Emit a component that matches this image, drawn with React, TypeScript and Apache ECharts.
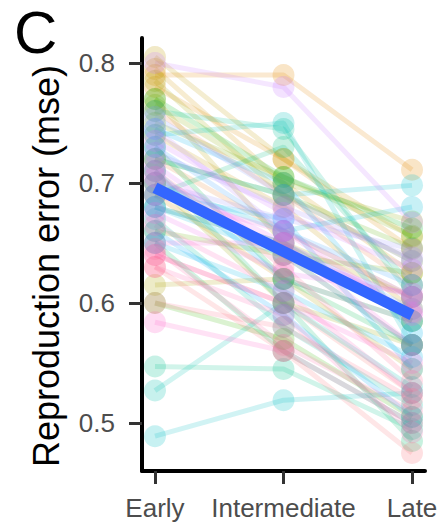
import React, { useEffect, useRef } from "react";
import * as echarts from "echarts";

// Phase categories (x axis)
const phases = ["Early", "Intermediate", "Late"];
// y tick labels
const yTicks = [0.5, 0.6, 0.7, 0.8];

// Per-subject reproduction error (mse); subject i gets the i-th hue of the palette
const early = [
  0.640, 0.700, 0.760, 0.720, 0.790, 0.780, 0.690, 0.795, 0.740, 0.805,
  0.770, 0.615, 0.785, 0.700, 0.765, 0.750, 0.660, 0.720, 0.600, 0.770,
  0.680, 0.730, 0.650, 0.710, 0.690, 0.547, 0.760, 0.670, 0.527, 0.740,
  0.489, 0.720, 0.700, 0.680, 0.650, 0.745, 0.690, 0.710, 0.660, 0.730,
  0.680, 0.755, 0.700, 0.725, 0.745, 0.800, 0.735, 0.715, 0.705, 0.675,
  0.690, 0.650, 0.640, 0.584, 0.665, 0.630, 0.645, 0.710, 0.600, 0.630,
];
const intermediate = [
  0.600, 0.640, 0.690, 0.660, 0.790, 0.720, 0.620, 0.700, 0.680, 0.720,
  0.650, 0.620, 0.690, 0.600, 0.700, 0.705, 0.640, 0.690, 0.570, 0.705,
  0.650, 0.620, 0.560, 0.600, 0.730, 0.545, 0.745, 0.580, 0.600, 0.750,
  0.519, 0.690, 0.660, 0.640, 0.610, 0.700, 0.670, 0.620, 0.590, 0.660,
  0.650, 0.690, 0.670, 0.680, 0.660, 0.780, 0.675, 0.640, 0.650, 0.625,
  0.660, 0.650, 0.600, 0.560, 0.610, 0.590, 0.565, 0.630, 0.580, 0.560,
];
const late = [
  0.525, 0.565, 0.615, 0.605, 0.711, 0.645, 0.585, 0.625, 0.595, 0.655,
  0.605, 0.545, 0.635, 0.565, 0.668, 0.656, 0.625, 0.646, 0.505, 0.662,
  0.585, 0.565, 0.500, 0.485, 0.615, 0.495, 0.605, 0.515, 0.530, 0.565,
  0.525, 0.698, 0.680, 0.565, 0.555, 0.575, 0.545, 0.585, 0.505, 0.615,
  0.595, 0.635, 0.645, 0.638, 0.605, 0.667, 0.628, 0.605, 0.592, 0.608,
  0.590, 0.565, 0.550, 0.500, 0.525, 0.492, 0.510, 0.535, 0.520, 0.475,
];
// Fitted trend (Early, Late)
const trend = [0.696, 0.590];

function hcl(h: number, c: number, l: number, a: number): string {
  const hr = (h * Math.PI) / 180;
  const u = c * Math.cos(hr);
  const v = c * Math.sin(hr);
  const Xn = 95.047, Yn = 100, Zn = 108.883;
  const un = (4 * Xn) / (Xn + 15 * Yn + 3 * Zn);
  const vn = (9 * Yn) / (Xn + 15 * Yn + 3 * Zn);
  const Y = Yn * Math.pow((l + 16) / 116, 3);
  const up = u / (13 * l) + un;
  const vp = v / (13 * l) + vn;
  const X = (Y * 9 * up) / (4 * vp);
  const Z = (Y * (12 - 3 * up - 20 * vp)) / (4 * vp);
  const x = X / 100, y = Y / 100, z = Z / 100;
  const lin = [
    3.2404542 * x - 1.5371385 * y - 0.4985314 * z,
    -0.969266 * x + 1.8760108 * y + 0.041556 * z,
    0.0556434 * x - 0.2040259 * y + 1.0572252 * z,
  ];
  const rgb = lin.map((cc) => {
    const g = cc <= 0.0031308 ? 12.92 * cc : 1.055 * Math.pow(cc, 1 / 2.4) - 0.055;
    return Math.round(Math.max(0, Math.min(1, g)) * 255);
  });
  return `rgba(${rgb[0]},${rgb[1]},${rgb[2]},${a})`;
}

export default function App() {
  const ref = useRef<HTMLDivElement>(null);
  useEffect(() => {
    if (!ref.current) return;
    const chart = echarts.init(ref.current, null, { renderer: "svg" });
    const n = early.length;
    const subjectSeries: any[] = early.map((e, i) => {
      const hue = 15 + (360 * i) / n;
      return {
        type: "line",
        data: [
          [0, e],
          [1, intermediate[i]],
          [2, late[i]],
        ],
        symbol: "circle",
        symbolSize: 22,
        lineStyle: { width: 5, color: hcl(hue, 100, 65, 0.18) },
        itemStyle: { color: hcl(hue, 100, 65, 0.22), borderWidth: 0 },
        silent: true,
        z: 2,
      };
    });
    const option: any = {
      animation: false,
      grid: { left: 142, right: 18, top: 38, bottom: 57, containLabel: false },
      xAxis: {
        type: "value",
        min: -0.101,
        max: 2.101,
        splitLine: { show: false },
        axisLine: { show: true, onZero: false, lineStyle: { color: "#000", width: 4 } },
        axisTick: {
          show: true,
          customValues: [0, 1, 2],
          length: 13,
          lineStyle: { color: "#333", width: 3 },
        },
        axisLabel: {
          customValues: [0, 1, 2],
          formatter: (v: number) => phases[Math.round(v)],
          fontSize: 26,
          fontFamily: "Liberation Sans, Arial, sans-serif",
          color: "#4d4d4d",
          margin: 24,
        },
      },
      yAxis: {
        type: "value",
        min: 0.46,
        max: 0.8208,
        splitLine: { show: false },
        axisLine: { show: true, onZero: false, lineStyle: { color: "#000", width: 4 } },
        axisTick: {
          show: true,
          customValues: yTicks,
          length: 13,
          lineStyle: { color: "#333", width: 3 },
        },
        axisLabel: {
          customValues: yTicks,
          formatter: (v: number) => v.toFixed(1),
          fontSize: 26,
          fontFamily: "Liberation Sans, Arial, sans-serif",
          color: "#4d4d4d",
          margin: 27,
        },
      },
      graphic: [
        {
          type: "text",
          left: 14,
          top: 2,
          style: {
            text: "C",
            fontSize: 60,
            lineHeight: 56,
            fontFamily: "Liberation Sans, Arial, sans-serif",
            fill: "#000",
          },
        },
        {
          type: "text",
          x: 46,
          y: 266,
          rotation: Math.PI / 2,
          style: {
            text: "Reproduction error (mse)",
            fontSize: 36,
            fontFamily: "Liberation Sans, Arial, sans-serif",
            fill: "#000",
            align: "center",
            verticalAlign: "middle",
          },
        },
      ],
      series: [
        ...subjectSeries,
        {
          type: "line",
          data: [
            [0, trend[0]],
            [2, trend[1]],
          ],
          symbol: "none",
          lineStyle: { width: 11, color: "#3366FF" },
          silent: true,
          z: 10,
        },
      ],
    };
    chart.setOption(option);
    return () => chart.dispose();
  }, []);
  return (
    <div
      ref={ref}
      style={{ position: "fixed", left: 0, top: 0, width: 443, height: 528, background: "#fff" }}
    />
  );
}
